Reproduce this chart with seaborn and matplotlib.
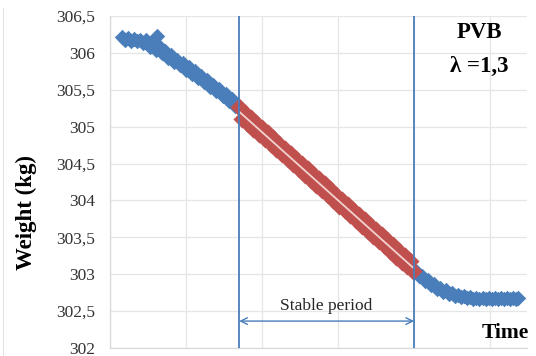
import numpy as np
import pandas as pd
import seaborn as sns
import matplotlib
matplotlib.use("Agg")
import matplotlib.pyplot as plt
from matplotlib.lines import Line2D

# ---------------- data (time in arbitrary minutes, weight in kg) ----------------
blue_pre_time = [3.2, 4.0, 4.8, 5.6, 6.4, 7.2, 8.0, 8.8, 12.4,
                 9.6, 10.4, 11.2, 12.0, 12.8, 13.6, 14.4, 15.2, 16.0, 16.8,
                 17.6, 18.4, 19.2, 20.0, 20.8, 21.6, 22.4, 23.2, 24.0, 24.8,
                 25.6, 26.4, 27.2, 28.0, 28.8, 29.6, 30.4, 31.2, 32.0, 32.8, 33.6]
blue_pre_weight = [306.21, 306.17, 306.20, 306.16, 306.19, 306.16, 306.18, 306.14, 306.23,
                   306.17, 306.08, 306.13, 306.04, 306.09, 306.00, 306.03, 305.93, 305.97, 305.88,
                   305.91, 305.83, 305.86, 305.77, 305.81, 305.72, 305.75, 305.66, 305.69, 305.60,
                   305.63, 305.54, 305.57, 305.48, 305.51, 305.41, 305.44, 305.35, 305.37, 305.28, 305.30]

red_time = [34.0, 34.75, 35.5, 36.25, 37.0, 37.75, 38.5, 39.25, 40.0, 40.75,
            41.5, 42.25, 43.0, 43.75, 44.5, 45.25, 46.0, 46.75, 47.5, 48.25,
            49.0, 49.75, 50.5, 51.25, 52.0, 52.75, 53.5, 54.25, 55.0, 55.75,
            56.5, 57.25, 58.0, 58.75, 59.5, 60.25, 61.0, 61.75, 62.5, 63.25,
            64.0, 64.75, 65.5, 66.25, 67.0, 67.75, 68.5, 69.25, 70.0, 70.75,
            71.5, 72.25, 73.0, 73.75, 74.5, 75.25, 76.0, 76.75, 77.5, 78.25,
            79.0, 79.75]
red_weight = [305.26, 305.11, 305.19, 305.04, 305.12, 304.97, 305.05, 304.90, 304.98, 304.83,
              304.91, 304.76, 304.84, 304.70, 304.77, 304.63, 304.70, 304.56, 304.63, 304.49,
              304.56, 304.42, 304.49, 304.35, 304.43, 304.28, 304.36, 304.21, 304.29, 304.14,
              304.22, 304.07, 304.15, 304.00, 304.08, 303.93, 304.01, 303.87, 303.94, 303.80,
              303.87, 303.73, 303.80, 303.66, 303.73, 303.59, 303.67, 303.52, 303.60, 303.45,
              303.53, 303.38, 303.46, 303.31, 303.39, 303.24, 303.32, 303.17, 303.25, 303.11,
              303.18, 303.04]

blue_post_time = [80.4, 81.2, 82.0, 82.8, 83.6, 84.4, 85.2, 86.0, 86.8, 87.6,
                  88.4, 89.2, 90.0, 90.8, 91.6, 92.4, 93.2, 94.0, 94.8, 95.6,
                  96.4, 97.2, 98.0, 98.8, 99.6, 100.4, 101.2, 102.0, 102.8, 103.6,
                  104.4, 105.2, 106.0, 106.8, 107.4]
blue_post_weight = [303.05, 302.97, 302.98, 302.91, 302.92, 302.85, 302.87, 302.80, 302.82, 302.76,
                    302.78, 302.73, 302.75, 302.71, 302.72, 302.69, 302.70, 302.68, 302.69, 302.67,
                    302.68, 302.67, 302.68, 302.67, 302.68, 302.67, 302.68, 302.67, 302.68, 302.67,
                    302.68, 302.67, 302.68, 302.67, 302.68]

stable_start = 34.0
stable_end = 80.0
arrow_weight = 302.365

y_ticks = [302, 302.5, 303, 303.5, 304, 304.5, 305, 305.5, 306, 306.5]
y_tick_labels = ["302", "302,5", "303", "303,5", "304", "304,5", "305", "305,5", "306", "306,5"]
x_grid = [0, 20, 40, 60, 80, 100]

BLUE = "#4A7EBB"
RED = "#C0504D"
SERIF = ["Liberation Serif", "DejaVu Serif"]

sns.set_theme(style="white")
plt.rcParams["font.family"] = SERIF

fig = plt.figure(figsize=(5.36, 3.56), dpi=100)
ax = fig.add_axes([110 / 536, 1 - 348 / 356, 417 / 536, 332 / 356])

blue_df = pd.DataFrame({"time": blue_pre_time + blue_post_time,
                        "weight": blue_pre_weight + blue_post_weight})
red_df = pd.DataFrame({"time": red_time, "weight": red_weight})

sns.scatterplot(data=blue_df, x="time", y="weight", ax=ax, marker="D", s=62,
                color=BLUE, linewidth=0, zorder=2)
sns.scatterplot(data=red_df, x="time", y="weight", ax=ax, marker="D", s=85,
                color=RED, linewidth=0, zorder=2)
sns.regplot(data=red_df, x="time", y="weight", ax=ax, scatter=False, ci=None,
            line_kws=dict(color="#F2D2CF", lw=1.3, zorder=3))

ax.axvline(stable_start, color=BLUE, lw=1.3, zorder=4)
ax.axvline(stable_end, color=BLUE, lw=1.3, zorder=4)

ax.annotate("", xy=(stable_start, arrow_weight), xytext=(stable_end, arrow_weight),
            arrowprops=dict(arrowstyle="<->", color=BLUE, lw=1.0,
                            shrinkA=0, shrinkB=0, mutation_scale=12), zorder=4)
ax.text((stable_start + stable_end) / 2, 302.57, "Stable period", ha="center", va="center",
        fontsize=12.5, color="#262626", family=SERIF)

ax.set_xlim(0, 109.7)
ax.set_ylim(302, 306.5)
ax.set_xticks(x_grid)
ax.set_xticklabels([])
ax.set_yticks(y_ticks)
ax.set_yticklabels(y_tick_labels)
ax.tick_params(axis="both", length=0)
ax.tick_params(axis="y", pad=11, labelsize=12.5, labelcolor="#333333")
ax.grid(True, color="#E6E6E6", lw=0.9)
ax.set_axisbelow(True)
ax.set_xlabel("")
ax.set_ylabel("")
for side in ["top", "right"]:
    ax.spines[side].set_visible(False)
for side in ["left", "bottom"]:
    ax.spines[side].set_color("#D9D9D9")
    ax.spines[side].set_linewidth(0.9)

fig.text(26 / 536, 1 - 212 / 356, "Weight (kg)", rotation=90, ha="center", va="center",
         fontsize=16.5, fontweight="bold", color="black", family=SERIF)
fig.text(505 / 536, 1 - 333 / 356, "Time", ha="center", va="center",
         fontsize=15.5, fontweight="bold", color="black", family=SERIF)
fig.text(479 / 536, 1 - 33 / 356, "PVB", ha="center", va="center",
         fontsize=16.5, fontweight="bold", color="black", family=SERIF)
fig.text(479 / 536, 1 - 66 / 356, "λ =1,3", ha="center", va="center",
         fontsize=16.5, fontweight="bold", color="black", family=SERIF)

fig.add_artist(Line2D([3 / 536, 3 / 536], [0, 1 - 8 / 356], transform=fig.transFigure,
                      color="#E3E3E3", lw=0.8))

fig.savefig("out.png", dpi=100)
